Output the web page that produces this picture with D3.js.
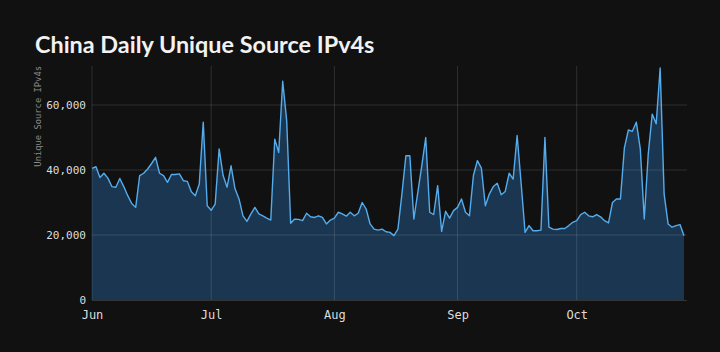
<!DOCTYPE html>
<html>
<head>
<meta charset="utf-8">
<script src="https://cdn.jsdelivr.net/npm/d3@7"></script>
<style>
  html, body { margin: 0; padding: 0; background: #111111; }
  svg { display: block; }
</style>
</head>
<body>
<div id="chart"></div>
<script>
// Daily unique source IPv4 counts, Jun 1 - Oct 28
const startDate = "2023-06-01";
const monthTicks = ["2023-06-01", "2023-07-01", "2023-08-01", "2023-09-01", "2023-10-01"];
const yTicks = [0, 20000, 40000, 60000];

const junValues = [40500, 41000, 37700, 39000, 37500, 34900, 34700, 37400, 34900, 32100,
    29700, 28500, 38300, 39000, 40300, 42000, 43900, 39000, 38300, 36200,
    38600, 38600, 38800, 36700, 36500, 33300, 32100, 35700, 54700, 29000];
const julValues = [27600, 29500, 46500, 38300, 34700, 41300, 34200, 31100, 25900, 24200,
    26500, 28500, 26500, 25900, 25200, 24600, 49500, 45400, 67300, 55200,
    23600, 24900, 24800, 24400, 26700, 25600, 25400, 25900, 25400, 23400, 24600];
const augValues = [25200, 27000, 26500, 25800, 27000, 25900, 26700, 30000, 28000, 23400,
    21800, 21500, 21800, 21000, 20800, 19800, 21800, 32600, 44400, 44400,
    24900, 33100, 41300, 50000, 27000, 26300, 35200, 21100, 27300, 25200, 27500];
const sepValues = [28500, 31100, 27000, 25900, 38300, 42900, 40600, 29000, 32600, 34900,
    35900, 32400, 33400, 39000, 37200, 50600, 36000, 20800, 22900, 21300,
    21300, 21500, 50000, 22400, 21800, 21700, 22000, 22000, 22900, 23900];
const octValues = [24400, 26300, 27000, 25900, 25600, 26300, 25600, 24400, 23700, 30000,
    31100, 31100, 46800, 52300, 51900, 54700, 46500, 24900, 44900, 57200,
    54200, 71400, 32600, 23400, 22400, 22900, 23200, 19800];

const values = [...junValues, ...julValues, ...augValues, ...sepValues, ...octValues];
const parse = d3.utcParse("%Y-%m-%d");
const start = parse(startDate);
const data = values.map((v, i) => ({ date: d3.utcDay.offset(start, i), value: v }));

const width = 720;
const height = 352;
const margin = { top: 66, right: 36, bottom: 52, left: 92 };

const svg = d3.select("#chart")
    .append("svg")
    .attr("width", width)
    .attr("height", height)
    .attr("viewBox", [0, 0, width, height]);

svg.append("rect")
    .attr("width", width)
    .attr("height", height)
    .attr("fill", "#111111");

const x = d3.scaleUtc()
    .domain(d3.extent(data, d => d.date))
    .range([margin.left, width - margin.right]);

const y = d3.scaleLinear()
    .domain([0, 72000])
    .range([height - margin.bottom, margin.top]);

// area + line
const area = d3.area()
    .x(d => x(d.date))
    .y0(y(0))
    .y1(d => y(d.value));

const line = d3.line()
    .x(d => x(d.date))
    .y(d => y(d.value));

svg.append("path")
    .datum(data)
    .attr("fill", "#1b3651")
    .attr("d", area);

// grid drawn over the area
const grid = svg.append("g");
grid.selectAll(".hgrid")
    .data(yTicks.slice(1))
    .enter().append("line")
    .attr("x1", margin.left)
    .attr("x2", width - margin.right + 3)
    .attr("y1", d => y(d))
    .attr("y2", d => y(d))
    .attr("stroke", "#ffffff")
    .attr("stroke-opacity", 0.13)
    .attr("stroke-width", 1);

grid.selectAll(".vgrid")
    .data(monthTicks.map(parse))
    .enter().append("line")
    .attr("x1", d => x(d))
    .attr("x2", d => x(d))
    .attr("y1", margin.top)
    .attr("y2", height - margin.bottom)
    .attr("stroke", "#ffffff")
    .attr("stroke-opacity", 0.13)
    .attr("stroke-width", 1);

svg.append("path")
    .datum(data)
    .attr("fill", "none")
    .attr("stroke", "#55acec")
    .attr("stroke-width", 1.4)
    .attr("stroke-linejoin", "round")
    .attr("d", line);

// baseline
svg.append("line")
    .attr("x1", margin.left)
    .attr("x2", width - margin.right + 3)
    .attr("y1", y(0) + 0.5)
    .attr("y2", y(0) + 0.5)
    .attr("stroke", "#ffffff")
    .attr("stroke-opacity", 0.15);

// y axis
const yAxis = svg.append("g")
    .attr("transform", `translate(${margin.left},0)`)
    .call(d3.axisLeft(y).tickValues(yTicks).tickSize(0).tickPadding(6).tickFormat(d3.format(",")));
yAxis.select(".domain").remove();
yAxis.selectAll("text")
    .attr("fill", "#dddddd")
    .style("font-family", "'DejaVu Sans Mono', monospace")
    .style("font-size", "11px");

// x axis
const xAxis = svg.append("g")
    .attr("transform", `translate(0,${height - margin.bottom})`)
    .call(d3.axisBottom(x).tickValues(monthTicks.map(parse)).tickSize(0).tickPadding(10)
        .tickFormat(d3.utcFormat("%b")));
xAxis.select(".domain").remove();
xAxis.selectAll("text")
    .attr("fill", "#dddddd")
    .style("font-family", "'DejaVu Sans Mono', monospace")
    .style("font-size", "12px");

// y label
svg.append("text")
    .attr("transform", `translate(41,${margin.top}) rotate(-90)`)
    .attr("text-anchor", "end")
    .attr("fill", "#8a8a8a")
    .style("font-family", "'DejaVu Sans Mono', monospace")
    .style("font-size", "8.8px")
    .text("Unique Source IPv4s");

// title
svg.append("text")
    .attr("x", 35)
    .attr("y", 53)
    .attr("fill", "#f2f2f2")
    .style("font-family", "Lato, sans-serif")
    .style("font-weight", "bold")
    .style("font-size", "23.4px")
    .text("China Daily Unique Source IPv4s");
</script>
</body>
</html>
